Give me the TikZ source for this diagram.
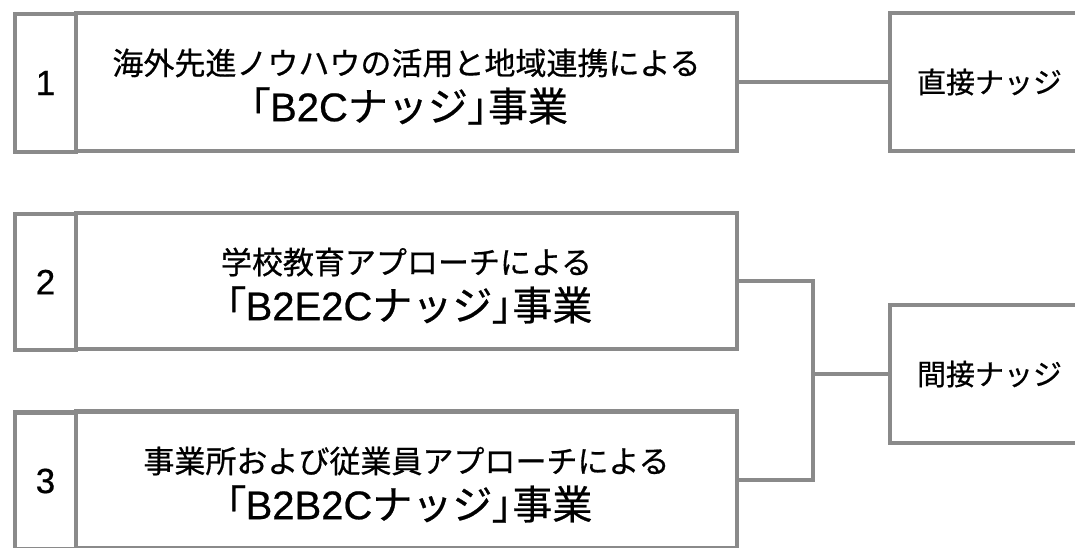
\documentclass[tikz,border=0pt]{standalone}
\usepackage{fontspec}
\setmainfont{Liberation Sans}[FakeBold=0.6]
\newfontfamily\jp{Noto Sans CJK JP}[FakeBold=0.6]
\newfontfamily\jpp{Noto Sans CJK JP}[RawFeature=+palt,FakeBold=0.6]
\definecolor{linegray}{RGB}{138,138,138}
\begin{document}
\begin{tikzpicture}[x=1pt,y=-1pt,
  cell/.style={draw=linegray,line width=4.5pt,rectangle,inner sep=0pt,minimum height=138pt},
  numcell/.style={cell,minimum width=61pt,font=\fontsize{35}{42}\selectfont},
  maincell/.style={cell,minimum width=661pt},
  sidecell/.style={cell,minimum width=230pt,inner xsep=27pt,text width=176pt,align=left,font=\fontsize{29}{34}\selectfont\jp},
  upper/.style={inner sep=0pt,font=\fontsize{31}{36}\selectfont\jp},
  lower/.style={inner sep=0pt,font=\fontsize{40}{48}\selectfont},
  conn/.style={draw=linegray,line width=4.5pt}]
\clip (0,0) rectangle (1075,548);
\fill[white] (0,0) rectangle (1075,548);

% row 1
\node[numcell] (n1) at (45.5,83) {1};
\node[maincell] (m1) at (406.5,82) {};
\node[upper] (t1a) at (406.5,63) {海外先進ノウハウの活用と地域連携による};
\node[lower] (t1b) at (409,106) {{\jpp 「}B2C{\jp ナッジ}{\jpp 」}{\jp 事業}};

% row 2
\node[numcell,minimum height=136pt] (n2) at (45.5,282) {2};
\node[maincell,minimum height=136pt] (m2) at (406.5,281) {};
\node[upper] (t2a) at (406.5,262) {学校教育アプローチによる};
\node[lower] (t2b) at (409,305) {{\jpp 「}B2E2C{\jp ナッジ}{\jpp 」}{\jp 事業}};

% row 3
\node[numcell,minimum height=137pt] (n3) at (45.5,481) {3};
\node[maincell,minimum height=137pt] (m3) at (406.5,480) {};
\node[upper] (t3a) at (406.5,461) {事業所および従業員アプローチによる};
\node[lower] (t3b) at (409,504) {{\jpp 「}B2B2C{\jp ナッジ}{\jpp 」}{\jp 事業}};

% right boxes
\node[sidecell] (direct) at (1005,82) {直接ナッジ};
\node[sidecell] (indirect) at (1005,374) {間接ナッジ};

% connectors
\coordinate (jx) at (813,374);
\draw[conn] (m1.east) -- (direct.west);
\draw[conn] (m2.east) -- (m2.east -| jx) -- (m3.east -| jx) -- (m3.east);
\draw[conn] (indirect.west) -- (indirect.west -| jx);
\end{tikzpicture}
\end{document}
